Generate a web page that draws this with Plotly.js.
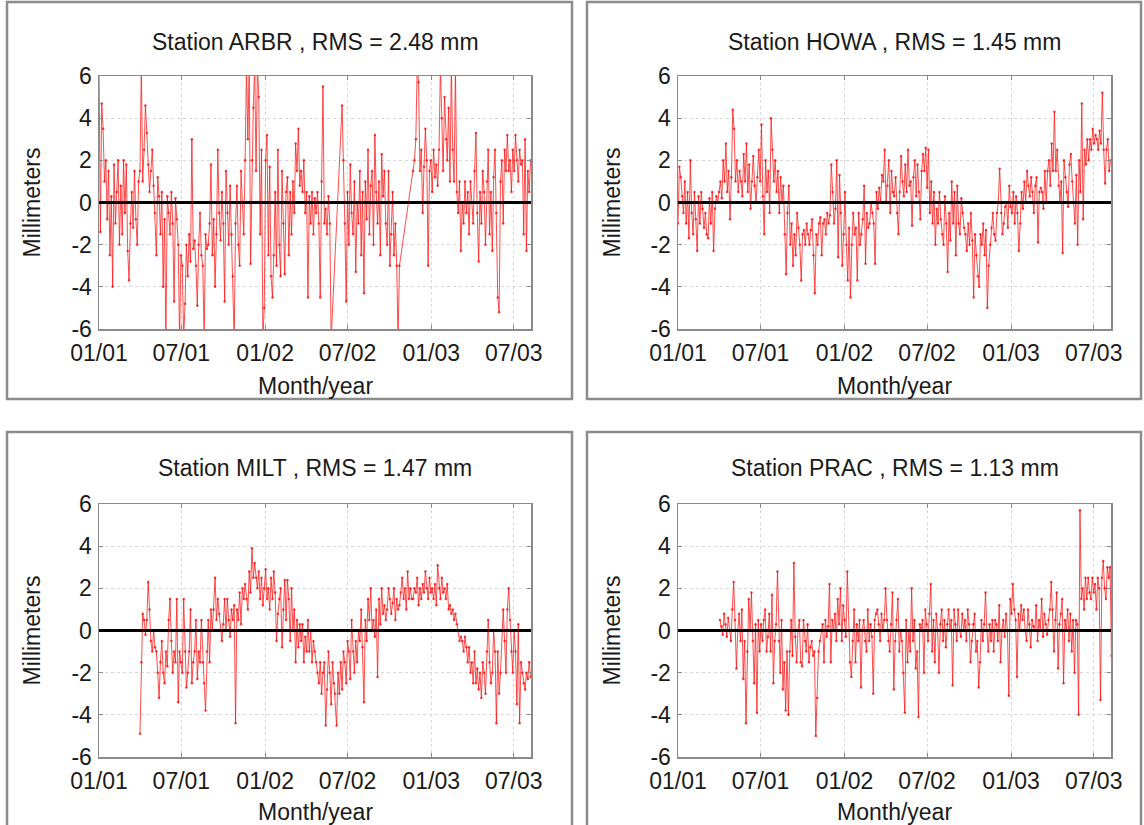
<!DOCTYPE html>
<html>
<head>
<meta charset="utf-8">
<script src="https://cdn.plot.ly/plotly-3.0.1.min.js"></script>
<style>
html,body{margin:0;padding:0;background:#fff;}
#chart{width:1144px;height:825px;}
</style>
</head>
<body>
<div id="chart"></div>
<script>
// ---- tick labels ----
const xTickVals = ['2001-01-01','2001-07-01','2002-01-01','2002-07-01','2003-01-01','2003-07-01'];
const xTickText = ['01/01','07/01','01/02','07/02','01/03','07/03'];
const yTickVals = [-6,-4,-2,0,2,4,6];
const yTickText = ['-6','-4','-2','0','2','4','6'];
const xRange = ['2001-01-01','2003-08-08'];

// ---- stations ----
const stations = ['ARBR','HOWA','MILT','PRAC'];
const rmsValues = ['2.48','1.45','1.47','1.13'];
// first sample (days after 2001-01-01) and sampling step in days
const startDays = [0, 0, 90, 92];
const stepDays = 3;

// ---- series values (mm), one sample every 3 days ----
const arbr = [
 6.5,-1.4,4.7,3.5,1.0,2.0,-0.8,1.5,-2.5,0.3,
 -4.0,1.8,-1.0,0.5,2.0,-2.0,0.8,-1.5,2.0,-0.5,
 1.8,-2.3,-3.7,-1.0,0.5,-1.2,1.5,-0.8,-2.0,1.0,
 1.5,6.5,1.0,2.5,4.6,3.3,1.8,0.5,1.5,2.5,
 0.8,-0.5,-2.5,1.2,0.3,-1.5,0.5,-4.0,-0.8,-6.5,
 0.3,-0.5,-1.5,0.5,-1.0,-4.7,0.2,-0.8,-2.0,-6.5,
 -2.5,-3.0,-6.5,-4.8,-2.0,-3.5,-1.5,-2.8,3.0,-2.2,
 -1.8,-3.0,-4.9,-2.0,-0.5,-2.5,-3.0,-6.5,-1.5,-2.2,
 -2.0,-1.0,1.8,-2.5,-0.8,-4.0,-1.5,2.5,-0.5,-1.8,
 0.5,-1.0,-4.7,1.5,-0.5,-2.0,0.8,-1.5,-3.5,-6.5,
 -1.0,0.8,-2.0,-3.0,1.5,0.0,-1.5,2.0,6.5,3.0,
 6.5,-2.9,2.0,4.5,6.5,1.5,6.5,5.0,-1.5,2.5,
 -6.5,-5.0,2.0,3.2,-2.5,1.7,-3.5,-4.5,-2.5,0.5,
 -3.0,2.5,-2.0,-3.5,1.5,-1.0,-3.4,0.5,1.2,-2.5,
 0.5,-1.5,1.0,-0.5,2.8,1.5,3.5,0.8,1.5,0.5,
 2.0,-0.5,0.5,-4.5,0.3,-1.0,0.5,-1.5,0.2,-0.5,
 0.5,-1.0,-4.5,1.0,5.5,-1.0,-0.3,-1.5,0.3,-1.0,
 -6.5,null,null,null,null,null,null,null,4.6,2.0,
 -1.0,-4.7,0.5,-2.0,1.8,-0.5,-1.5,1.0,-3.3,0.0,
 -1.0,1.5,-2.5,0.5,-4.3,1.0,-0.8,2.5,-1.5,0.8,
 1.5,-2.0,3.2,0.5,-1.0,1.0,-2.5,2.3,0.3,1.5,
 -1.0,-2.0,1.5,-3.0,-1.5,0.5,-2.5,-1.0,-3.0,-6.5,
 -3.0,null,null,null,null,null,null,null,null,null,
 1.5,2.0,3.0,6.5,5.7,1.5,2.5,-0.5,1.7,3.5,
 2.0,-3.0,1.5,2.0,0.5,2.5,1.2,1.8,0.8,2.5,
 6.5,4.0,1.5,5.0,3.0,2.0,4.5,1.0,6.5,2.5,
 1.0,6.5,0.5,-0.5,1.0,-2.3,0.0,-1.0,1.0,-0.5,
 0.5,-1.5,1.0,0.0,-1.0,1.5,3.3,-0.5,-2.8,0.5,
 -1.0,1.5,0.5,-2.0,1.0,2.5,-1.5,0.5,-2.3,1.2,
 2.5,-0.5,-4.5,-5.2,1.0,2.0,-1.0,2.5,1.5,3.2,
 1.5,2.0,0.5,2.5,1.5,3.2,2.0,1.0,2.5,1.8,
 2.0,-1.5,3.0,-2.3,1.5,0.5,2.0
];

const howa = [
 -1.0,1.7,1.2,0.3,-0.5,1.0,-1.0,0.5,-1.7,2.0,
 -0.5,-1.5,0.5,-0.8,-2.3,0.3,-1.0,0.5,-0.3,-1.2,
 -0.5,-1.5,-1.7,0.2,-1.0,0.5,-2.3,-0.3,0.3,0.0,
 0.5,1.0,0.2,2.0,1.0,2.8,0.5,1.5,-0.8,1.2,
 4.4,3.5,1.0,2.0,0.5,1.5,1.0,0.3,2.3,1.0,
 2.8,0.5,1.8,-0.3,1.0,2.2,0.8,0.0,1.2,2.5,
 1.0,3.7,0.3,-1.5,2.0,0.5,1.5,-0.5,4.0,2.5,
 1.0,2.0,0.5,1.5,-0.5,1.2,0.0,0.8,-1.5,-3.4,
 -0.5,0.8,-2.0,-1.0,-3.0,-1.5,-2.5,-0.5,-1.2,-2.0,
 -3.7,-1.5,-1.3,-2.0,-1.0,-1.5,-2.0,-1.3,-0.8,-2.5,
 -4.3,-1.5,-2.0,-1.0,-0.7,-2.5,-1.0,-0.8,-1.5,-0.5,
 -1.0,-0.6,1.8,0.5,-1.0,-0.3,2.0,-2.6,1.3,-0.5,
 -3.0,-1.5,0.5,-2.0,-3.7,-1.2,-4.5,-2.0,-0.5,-1.5,
 -1.2,-3.7,-0.5,-2.0,-1.5,-0.8,0.8,-2.9,-0.5,-1.2,
 -1.0,0.0,-0.5,-1.0,-2.9,0.5,-0.3,0.7,0.0,1.3,
 1.0,2.5,0.0,0.8,2.0,-0.5,1.5,0.5,0.3,1.2,
 -0.5,-1.5,0.5,2.2,1.0,0.3,1.8,0.5,2.5,0.8,
 1.0,-1.1,1.2,2.0,0.3,1.8,0.5,-0.8,1.5,2.3,
 1.5,2.6,0.7,2.5,-0.5,1.0,-1.0,0.5,-2.0,-0.3,
 -1.0,0.5,-0.8,-1.5,-2.0,0.3,-1.0,-3.3,-0.5,-1.8,
 1.0,-1.0,0.5,-2.5,0.8,-1.0,-1.5,0.2,-0.5,-1.2,
 -1.5,-2.3,-1.0,-2.0,-0.5,-1.8,-4.5,-1.5,-2.5,-3.5,
 -4.0,-1.5,-2.0,-1.0,-2.5,-1.3,-5.0,-3.0,-2.0,-1.2,
 -0.5,-1.5,-1.8,-0.5,0.0,1.6,-0.5,-1.5,-1.0,-0.2,
 0.0,-1.2,0.8,-0.2,-0.5,0.5,-1.0,0.3,-0.5,-2.3,
 -1.0,0.5,-0.3,1.0,0.0,1.5,0.8,0.3,1.2,0.5,
 -0.5,0.8,1.2,-1.9,0.5,0.7,0.5,-0.3,1.5,0.0,
 1.5,2.0,0.8,2.8,1.5,4.3,1.5,2.5,0.8,0.0,
 1.0,-2.4,2.0,1.2,0.5,-0.2,1.8,2.3,1.0,0.0,
 -1.0,1.3,-2.0,2.0,0.5,4.7,-0.8,2.5,1.8,3.0,
 2.0,3.0,2.5,3.5,2.8,3.2,3.0,2.5,3.4,2.8,
 5.2,2.5,0.9,2.5,3.0,1.5,2.0
];

const milt = [
 -4.9,-1.5,0.8,0.5,-0.2,0.5,2.3,1.0,-0.5,-1.0,
 0.0,-0.8,-1.0,-2.0,-3.2,-1.5,-0.5,-2.0,-2.5,-1.0,
 -1.7,0.5,1.5,-0.5,-2.0,-1.0,-1.5,1.5,-3.4,-1.0,
 -1.5,-2.0,1.5,-1.0,-2.7,-2.0,-1.0,1.0,-2.5,-1.5,
 -1.0,0.5,-2.3,-1.0,-1.5,0.5,-1.5,-2.5,-3.8,-1.0,
 0.5,-1.5,1.0,0.0,1.0,2.5,0.5,1.5,0.8,0.0,
 -0.5,0.3,1.5,0.0,1.5,0.5,-0.3,1.0,0.5,1.2,
 -4.4,1.0,0.5,1.8,0.3,2.0,1.5,2.2,1.5,1.0,
 2.8,1.8,3.9,2.5,3.2,2.5,2.0,2.8,1.5,2.5,
 1.2,2.0,2.9,1.5,2.0,1.0,2.5,1.5,2.8,1.8,
 -0.5,0.8,1.5,2.0,-0.8,1.0,2.4,0.5,2.4,1.5,
 -0.5,2.0,0.0,1.0,-1.5,0.5,-0.8,0.3,-0.5,0.3,
 -1.5,-0.3,-1.0,0.5,-1.0,0.0,-1.5,-0.5,-1.0,-1.5,
 -2.0,-2.5,-1.5,-3.0,-2.0,-1.5,-4.5,-2.8,-1.0,-2.0,
 -3.5,-1.5,-2.5,-3.0,-4.5,-2.0,-3.0,-1.5,-2.8,-1.0,
 -1.5,-2.5,-0.5,-1.0,-2.3,0.5,-1.0,-2.0,-0.5,-1.5,
 0.0,-0.5,1.0,-0.8,-3.4,0.5,-0.5,1.5,0.5,2.0,
 0.0,0.5,-0.3,1.0,-2.2,1.5,0.3,2.0,0.8,1.2,
 0.5,1.0,2.0,1.5,0.8,1.3,2.0,0.5,1.5,1.0,
 1.2,1.8,2.5,1.5,2.0,1.0,2.8,1.5,2.0,1.5,
 1.5,2.0,1.8,2.5,1.2,2.0,1.5,2.2,1.8,2.8,
 2.0,1.5,2.5,1.8,2.0,1.5,2.2,1.2,3.1,2.0,
 1.5,2.5,1.8,2.0,1.5,2.2,1.0,1.2,0.8,1.0,
 0.5,0.8,0.3,0.0,-0.5,-0.3,-0.5,-1.0,-0.3,-0.8,
 -1.5,-0.8,-2.0,-1.5,-2.5,-1.0,-2.5,-1.8,-2.8,-2.0,
 -3.2,-1.5,-2.0,-3.0,-1.0,0.5,-1.5,-2.5,-2.0,0.0,
 -1.0,-4.4,-1.0,-3.0,-2.0,0.0,1.0,-0.5,-2.0,1.0,
 2.0,0.5,-1.0,-2.0,0.0,-1.0,-3.5,0.3,-4.4,-1.5,
 -2.0,-2.5,-2.8,-2.0,-2.3,-1.5,-2.2
];

const prac = [
 0.5,0.2,-0.2,0.8,0.3,-0.3,0.6,0.0,-0.5,1.0,
 2.3,0.5,-1.8,0.0,0.8,-0.5,1.0,-2.3,-0.5,-4.4,
 -1.0,1.5,0.0,1.8,-0.5,-2.5,0.3,-3.9,0.5,-1.0,
 0.3,-0.5,0.5,1.0,-1.0,-0.3,0.8,-1.0,1.7,-2.5,
 -0.5,0.3,2.8,-0.5,-2.0,0.5,-2.8,-1.5,-3.8,-1.0,
 -4.0,-1.0,0.5,-1.2,3.2,-0.3,-1.5,0.0,0.5,-1.5,
 -1.7,0.5,-0.5,-1.0,0.3,-1.5,-0.8,-0.5,-1.2,-1.0,
 -5.0,-3.2,-1.0,-0.5,0.0,0.3,-1.5,0.5,-0.3,0.2,
 2.2,-1.5,0.5,0.0,0.8,-0.5,1.5,0.3,2.0,-0.5,
 1.2,0.5,-0.3,2.8,0.0,-1.5,-2.2,-0.5,1.0,-1.5,
 0.3,-0.5,0.5,-2.7,0.0,0.5,-0.5,-1.0,1.0,-0.5,
 0.3,-0.3,-3.0,0.5,0.8,1.0,0.3,-0.5,0.8,0.0,
 0.5,2.0,0.5,-0.5,-1.0,0.3,1.8,-2.8,-0.5,0.5,
 1.5,-1.0,0.0,-0.5,-2.0,-3.9,0.5,-1.5,0.0,-1.0,
 2.0,-0.5,0.5,-1.8,-1.0,-4.1,0.3,0.0,0.5,-2.0,
 1.0,0.3,-0.5,0.8,2.2,-1.0,0.5,-1.5,0.8,0.0,
 -2.0,0.3,1.0,-0.5,0.5,-0.8,0.3,1.0,0.0,0.5,
 -2.6,1.0,0.3,-0.5,1.0,0.0,-0.3,0.8,0.0,0.5,
 -0.5,1.0,0.3,-1.5,-0.5,0.3,0.8,-1.0,-0.5,-2.7,
 -1.5,0.5,-0.5,0.3,1.8,0.0,-1.0,0.3,-0.5,0.5,
 -1.0,0.5,0.3,-0.5,1.2,-1.5,0.0,0.5,-0.3,0.8,
 0.0,-3.1,1.5,0.8,2.2,1.0,0.5,-2.2,0.8,0.0,
 1.2,0.5,1.0,0.0,-0.5,1.0,0.3,-0.8,0.5,0.2,
 0.0,1.2,-0.5,0.5,0.0,1.5,-0.3,0.8,0.3,-0.2,
 0.5,1.0,2.3,1.0,-1.0,0.5,1.8,-1.8,0.3,0.8,
 1.5,-2.5,0.5,0.0,1.0,-0.5,0.8,-1.0,0.5,-2.0,
 0.5,0.3,-4.0,5.7,1.5,2.0,1.0,2.5,1.5,2.5,
 1.8,1.5,2.5,1.8,2.2,1.0,2.5,2.0,-3.3,2.5,
 3.3,2.0,1.5,3.0,2.5,3.0,-1.2
];

const seriesValues = [arbr, howa, milt, prac];

// ---- geometry (pixels in the 1144x825 page) ----
const W = 1144, H = 825;
const plotX = [[99,531],[678,1111],[99,531],[678,1111]];
const plotY = [[76,329],[76,329],[504,757],[504,757]];
const boxes = [[7,2,572,399],[587,2,1141,399],[7,432,572,840],[587,432,1141,840]];
const titleY = [42,42,468,468];
const xTitleY = [386,386,812,812];
const yTitleX = [31,611,31,611];

function px(x){return x/W;}
function py(y){return 1 - y/H;}

function datesFor(startDay, n){
  const base = Date.UTC(2001,0,1);
  const out = [];
  for(let i=0;i<n;i++){
    const d = new Date(base + (startDay + i*stepDays)*86400000);
    out.push(d.toISOString().slice(0,10));
  }
  return out;
}

const FONT = 'Liberation Sans, Arial, Helvetica, sans-serif';
const TXT = '#1a1a1a';
const FS = 23;

const traces = [];
const layout = {
  width: W, height: H,
  margin: {l:0,r:0,t:0,b:0},
  paper_bgcolor: '#ffffff',
  plot_bgcolor: '#ffffff',
  showlegend: false,
  font: {family: FONT, size: FS, color: TXT},
  annotations: [],
  shapes: []
};

for(let k=0;k<4;k++){
  const suf = k===0 ? '' : String(k+1);
  const vals = seriesValues[k];
  traces.push({
    type: 'scatter', mode: 'lines+markers',
    x: datesFor(startDays[k], vals.length),
    y: vals,
    xaxis: 'x'+suf, yaxis: 'y'+suf,
    connectgaps: true,
    line: {color: 'rgba(255,20,20,0.85)', width: 0.9},
    marker: {color: 'rgba(255,0,0,0.75)', size: 2.5, symbol: 'circle'},
    hoverinfo: 'skip'
  });
  const common = {
    showline: true, linecolor: '#8a8a8a', linewidth: 1.5, mirror: 'ticks',
    ticks: 'inside', ticklen: 4, tickcolor: '#8a8a8a', tickwidth: 1,
    showgrid: true, gridcolor: '#d8d8d8', gridwidth: 1, griddash: 'dot',
    zeroline: false, fixedrange: true,
    tickfont: {family: FONT, size: FS, color: TXT}
  };
  layout['xaxis'+suf] = Object.assign({}, common, {
    type: 'date', range: xRange,
    tickmode: 'array', tickvals: xTickVals, ticktext: xTickText,
    domain: [px(plotX[k][0]), px(plotX[k][1])],
    anchor: 'y'+suf,
    ticklabelstandoff: 3
  });
  layout['yaxis'+suf] = Object.assign({}, common, {
    range: [-6, 6],
    tickmode: 'array', tickvals: yTickVals, ticktext: yTickText,
    domain: [py(plotY[k][1]), py(plotY[k][0])],
    anchor: 'x'+suf,
    ticklabelstandoff: 1
  });
  // zero reference line on top of the data
  layout.shapes.push({
    type: 'line', layer: 'above',
    xref: 'x'+suf+' domain', x0: 0, x1: 1,
    yref: 'y'+suf, y0: 0, y1: 0,
    line: {color: '#000000', width: 3}
  });
  // panel frame
  const b = boxes[k];
  layout.shapes.push({
    type: 'rect', layer: 'below', xref: 'paper', yref: 'paper',
    x0: px(b[0]), x1: px(b[2]), y0: py(b[3]), y1: py(b[1]),
    line: {color: '#8c8c8c', width: 2.5}, fillcolor: 'rgba(0,0,0,0)'
  });
  const cx = (plotX[k][0] + plotX[k][1]) / 2;
  layout.annotations.push({
    xref: 'paper', yref: 'paper', x: px(cx), y: py(titleY[k]),
    xanchor: 'center', yanchor: 'middle', showarrow: false,
    text: 'Station ' + stations[k] + ' , RMS = ' + rmsValues[k] + ' mm',
    font: {family: FONT, size: FS, color: TXT}
  });
  layout.annotations.push({
    xref: 'paper', yref: 'paper', x: px(cx), y: py(xTitleY[k]),
    xanchor: 'center', yanchor: 'middle', showarrow: false,
    text: 'Month/year',
    font: {family: FONT, size: FS, color: TXT}
  });
  layout.annotations.push({
    xref: 'paper', yref: 'paper', x: px(yTitleX[k]), y: py((plotY[k][0]+plotY[k][1])/2),
    xanchor: 'center', yanchor: 'middle', showarrow: false, textangle: -90,
    text: 'Millimeters',
    font: {family: FONT, size: FS, color: TXT}
  });
}

Plotly.newPlot('chart', traces, layout, {staticPlot: true, displayModeBar: false});
</script>
</body>
</html>
